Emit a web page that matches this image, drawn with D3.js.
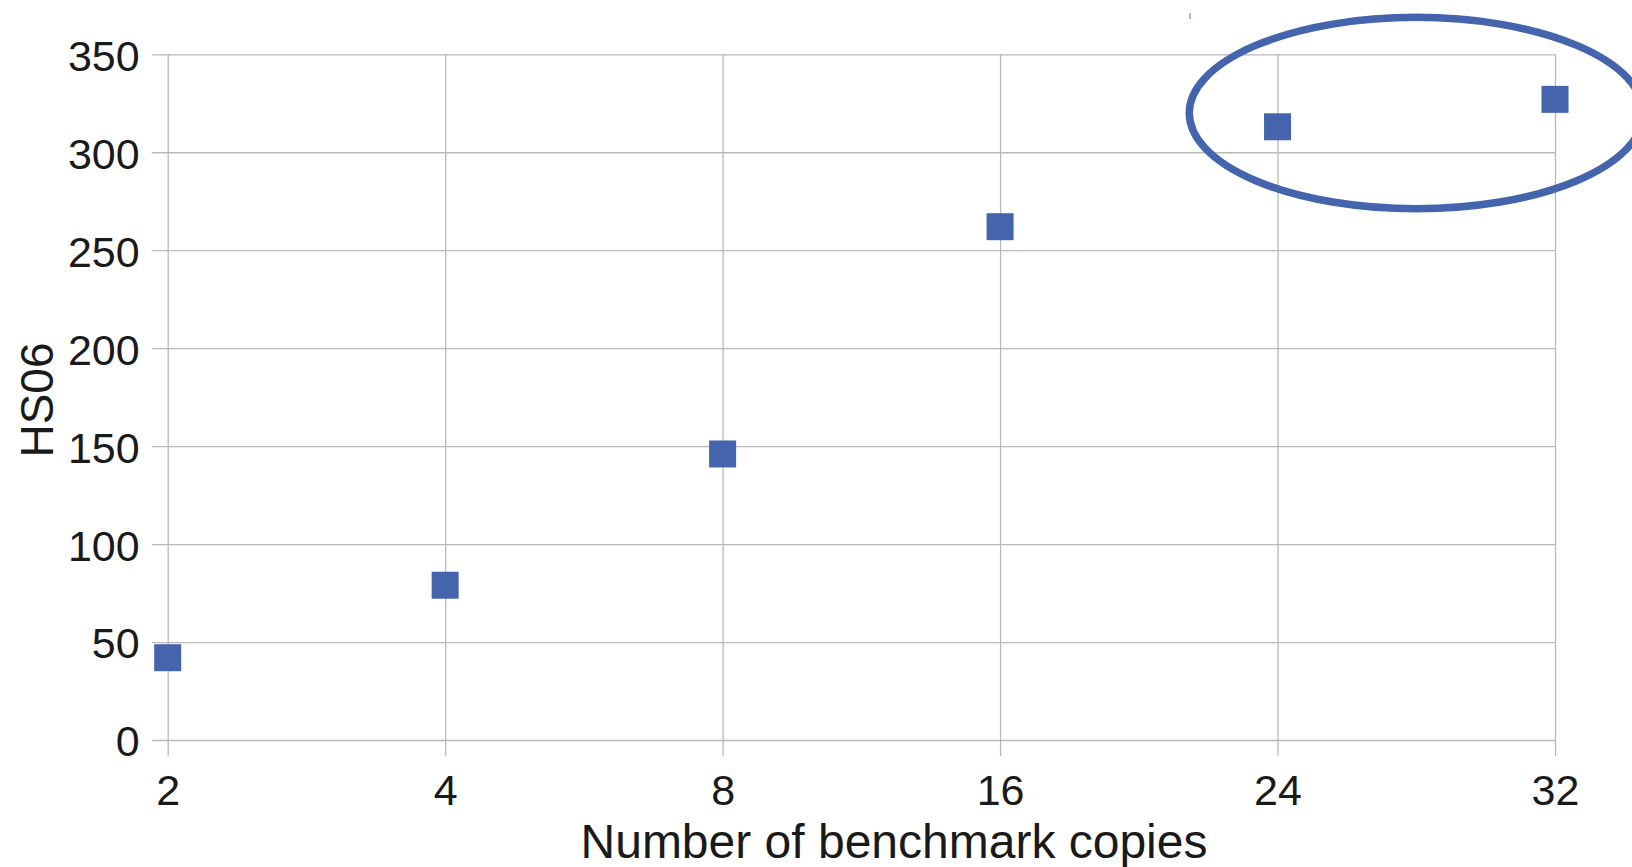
<!DOCTYPE html>
<html>
<head>
<meta charset="utf-8">
<script src="https://cdn.jsdelivr.net/npm/d3@7/dist/d3.min.js"></script>
<style>
  html, body { margin: 0; padding: 0; background: #ffffff; }
  svg { display: block; }
  text { font-family: "Liberation Sans", Arial, Helvetica, sans-serif; fill: #1a1a1a; }
</style>
</head>
<body>
<svg id="chart" width="1632" height="867"></svg>
<script>
// ---- Data ----
const categories = ["2", "4", "8", "16", "24", "32"];
const hs06Values = [42, 79, 146, 262, 313, 327];
const yTickValues = [0, 50, 100, 150, 200, 250, 300, 350];
const xTitle = "Number of benchmark copies";
const yTitle = "HS06";
// annotation ellipse (data units: centred between categories "24" and "32", at HS06 = 320)
const highlightFrom = "24";
const highlightTo = "32";
const highlightValue = 320;

// ---- Layout ----
const plotLeft = 167.7, plotRight = 1555, plotTop = 54.3, plotBottom = 740;
const tickLen = 16;
const blue = "#4464AD";
const gridColor = "#b9b9b9";

const svg = d3.select("#chart");

const x = d3.scalePoint().domain(categories).range([plotLeft, plotRight]);
const y = d3.scaleLinear().domain([0, 350]).range([plotBottom, plotTop]);

// Y axis with gridlines
const yAxis = d3.axisLeft(y)
  .tickValues(yTickValues)
  .tickSize(-(plotRight - plotLeft + tickLen))
  .tickPadding(12)
  .tickFormat(d3.format("d"));
const gy = svg.append("g")
  .attr("transform", `translate(${plotLeft - tickLen},0)`)
  .call(yAxis);
gy.select(".domain").remove();
gy.selectAll(".tick line").attr("stroke", gridColor).attr("stroke-width", 1.3);
gy.selectAll(".tick text")
  .attr("dy", "0.37em")
  .style("font-size", "43px")
  .style("font-family", "'Liberation Sans', Arial, sans-serif")
  .attr("fill", "#1a1a1a");

// X axis with gridlines
const xAxis = d3.axisBottom(x)
  .tickSize(plotBottom - plotTop + tickLen)
  .tickPadding(18);
const gx = svg.append("g")
  .attr("transform", `translate(0,${plotTop})`)
  .call(xAxis);
gx.select(".domain").remove();
gx.selectAll(".tick line").attr("stroke", gridColor).attr("stroke-width", 1.3);
gx.selectAll(".tick text")
  .style("font-size", "43px")
  .style("font-family", "'Liberation Sans', Arial, sans-serif")
  .attr("fill", "#1a1a1a");

// Square markers
const size = 27;
svg.append("g").selectAll("rect")
  .data(categories.map((c, i) => ({ c, v: hs06Values[i] })))
  .join("rect")
  .attr("x", d => x(d.c) - size / 2)
  .attr("y", d => y(d.v) - size / 2)
  .attr("width", size)
  .attr("height", size)
  .attr("fill", blue);

// Highlight ellipse
const cx = (x(highlightFrom) + x(highlightTo)) / 2;
svg.append("ellipse")
  .attr("cx", cx)
  .attr("cy", y(highlightValue))
  .attr("rx", 227)
  .attr("ry", 95.7)
  .attr("fill", "none")
  .attr("stroke", blue)
  .attr("stroke-width", 7.5);

// tiny stray mark
svg.append("line")
  .attr("x1", 1190).attr("x2", 1190)
  .attr("y1", 13).attr("y2", 19)
  .attr("stroke", "#8fa2d2").attr("stroke-width", 1.5);

// Axis titles
svg.append("text")
  .attr("x", 894)
  .attr("y", 858)
  .attr("text-anchor", "middle")
  .style("font-size", "48px")
  .text(xTitle);

svg.append("text")
  .attr("transform", "translate(53,400) rotate(-90)")
  .attr("text-anchor", "middle")
  .style("font-size", "46px")
  .text(yTitle);
</script>
</body>
</html>
